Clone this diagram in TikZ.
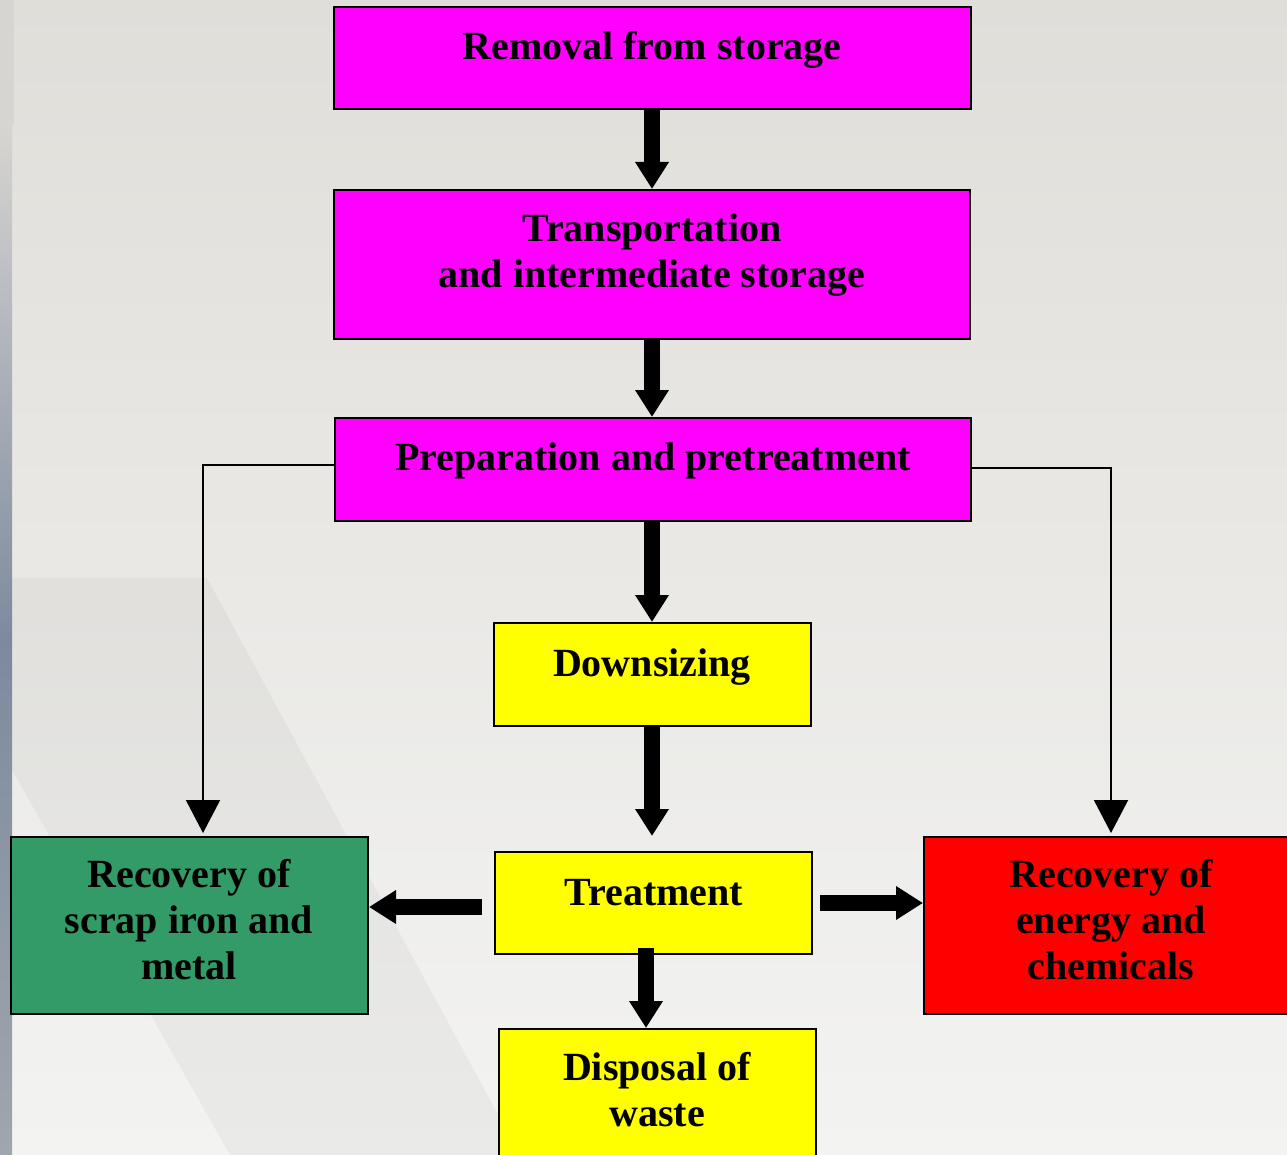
\documentclass[tikz,border=0pt]{standalone}
\usepackage{fontspec}
\setmainfont{Liberation Serif}
\usetikzlibrary{arrows.meta,fit}
\definecolor{mag}{RGB}{255,0,255}
\definecolor{yel}{RGB}{255,255,0}
\definecolor{grn}{RGB}{51,155,104}
\definecolor{rd}{RGB}{255,0,0}
\definecolor{bgtop}{RGB}{224,222,217}
\definecolor{bgbot}{RGB}{243,243,242}
\definecolor{stripA}{RGB}{215,213,209}
\definecolor{stripB}{RGB}{125,138,158}
\definecolor{stripC}{RGB}{160,166,173}
\begin{document}
\begin{tikzpicture}[x=1pt,y=-1pt,
  box/.style={draw=black,line width=2pt,inner sep=0pt},
  lbl/.style={font=\fontsize{40}{46}\selectfont\bfseries,align=center,inner sep=0pt},
  bigarrow/.style={line width=16pt,-{Triangle[width=32pt,length=27pt]}},
  thinarrow/.style={line width=2pt,-{Triangle[width=34pt,length=33pt]}}]
\useasboundingbox (0,0) rectangle (1287,1155);
\clip (0,0) rectangle (1287,1155);
% background
\shade[top color=bgtop,bottom color=bgbot] (0,0) rectangle (1287,1155);
\fill[black,opacity=0.035] (12,578) -- (207,578) -- (520,1155) -- (230,1155) -- (12,770) -- cycle;
\shade[top color=stripA,bottom color=stripB] (0,125) rectangle (12,640);
\shade[top color=stripB,bottom color=stripC] (0,640) rectangle (12,1155);
\fill[stripA] (0,0) rectangle (14,125);

% boxes
\node[box,fill=mag,fit={(334,7) (971,109)}] (rem) {};
\node[box,fill=mag,fit={(334,190) (970,339)}] (tra) {};
\node[box,fill=mag,fit={(335,418) (971,521)}] (pre) {};
\node[box,fill=yel,fit={(494,623) (811,726)}] (dow) {};
\node[box,fill=yel,fit={(495,852) (812,954)}] (tre) {};
\node[box,fill=yel,fit={(499,1029) (816,1170)}] (dis) {};
\node[box,fill=grn,fit={(11,837) (368,1014)}] (grnb) {};
\node[box,fill=rd,fit={(924,837) (1300,1014)}] (redb) {};

% texts
\node[lbl] (remt) at (652,50.8) {Removal from storage\strut};
\node[lbl] (trat) at (652,255.3) {Transportation\strut\\ and intermediate storage\strut};
\node[lbl] (pret) at (653,460.8) {Preparation and pretreatment\strut};
\node[lbl] (dowt) at (652,666.8) {Downsizing\strut};
\node[lbl] (tret) at (654,895.8) {Treatment\strut};
\node[lbl] (dist) at (657,1094.3) {Disposal of\strut\\ waste\strut};
\node[lbl] (grnt) at (189,923.8) {Recovery of\strut\\ scrap iron and\strut\\ metal\strut};
\node[lbl] (redt) at (1111,923.8) {Recovery of\strut\\ energy and\strut\\ chemicals\strut};

% connector end points
\coordinate (c1) at (652,109);
\coordinate (c2) at (652,339);
\coordinate (c3) at (652,521);
\coordinate (c4) at (652,726);
\coordinate (c4e) at (652,836);
\coordinate (tl) at (482,907);
\coordinate (tr) at (820,903);
\coordinate (td) at (646,948);
\coordinate (gin) at (203,833);
\coordinate (rin) at (1111,833);

% thick arrows
\draw[bigarrow] (c1) -- (c1 |- tra.north);
\draw[bigarrow] (c2) -- (c2 |- pre.north);
\draw[bigarrow] (c3) -- (c3 |- dow.north);
\draw[bigarrow] (c4) -- (c4e);
\draw[bigarrow] (tl) -- (tl -| grnb.east);
\draw[bigarrow] (tr) -- (tr -| redb.west);
\draw[bigarrow] (td) -- (td |- dis.north);

% thin arrows
\draw[thinarrow] ([yshift=5pt]pre.west) -| (gin);
\draw[thinarrow] ([yshift=2pt]pre.east) -| (rin);
\end{tikzpicture}
\end{document}
